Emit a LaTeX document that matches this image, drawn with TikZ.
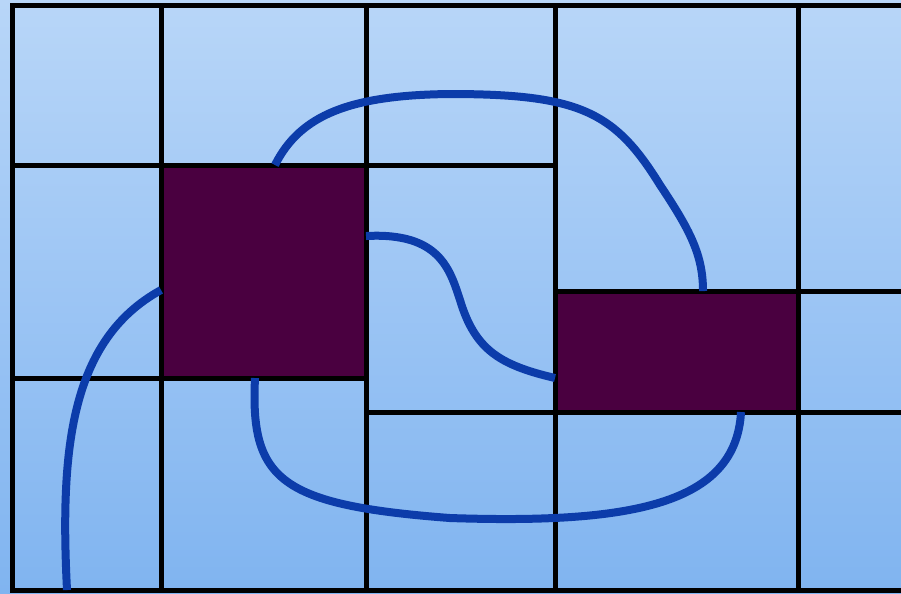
\documentclass[tikz,border=0pt]{standalone}
\usetikzlibrary{positioning}
\definecolor{bgtop}{RGB}{184,214,248}
\definecolor{bgbot}{RGB}{128,180,240}
\definecolor{plum}{RGB}{74,0,64}
\definecolor{wireblue}{RGB}{12,60,170}
\begin{document}
\begin{tikzpicture}[x=0.1mm, y=-0.1mm]
		% Styles
		\tikzstyle{grid} = [draw=black, line width=0.5mm]
		\tikzstyle{block} = [rectangle, draw=black, fill=plum, line width=0.5mm, inner sep=0pt, outer sep=0pt]
		\tikzstyle{wire} = [draw=wireblue, line width=0.8mm]
		
		% Background
		\useasboundingbox (0,0) rectangle (901,593);
		\fill[top color=bgtop, bottom color=bgbot] (0,0) rectangle (901,593);
		
		% Grid
		\draw[grid] (901,5) -- (12,5) -- (12,590) -- (901,590);
		\draw[grid] (161,5) -- (161,590);
		\draw[grid] (366,5) -- (366,590);
		\draw[grid] (555,5) -- (555,590);
		\draw[grid] (798,5) -- (798,590);
		\draw[grid] (12,165) -- (555,165);
		\draw[grid] (555,291) -- (901,291);
		\draw[grid] (12,378) -- (366,378);
		\draw[grid] (366,412) -- (901,412);
		
		% Nodes
		\node[block, minimum width=20.5mm, minimum height=21.3mm] (leftblock) at (263.5,271.5) {};
		\node[block, minimum width=24.3mm, minimum height=12.1mm] (rightblock) at (676.5,351.5) {};
		\coordinate (entry) at (67,590);
		
		% Wires
		\draw[wire] (entry) .. controls (60,450) and (70,340) .. (leftblock.west |- 0,290);
		\draw[wire] ([xshift=1.15mm]leftblock.north) .. controls (300,115) and (350,95) .. (450,94)
			.. controls (580,94) and (615,112) .. (660,185)
			.. controls (690,230) and (703,255) .. ([xshift=2.65mm]rightblock.north);
		\draw[wire] (leftblock.east |- 0,236) .. controls (440,232) and (450,270) .. (460,300)
			.. controls (475,350) and (500,365) .. (rightblock.west |- 0,378);
		\draw[wire] ([xshift=-0.85mm]leftblock.south) .. controls (250,480) and (280,505) .. (450,518)
			.. controls (630,524) and (736,505) .. ([xshift=6.45mm]rightblock.south);
	\end{tikzpicture}
\end{document}
